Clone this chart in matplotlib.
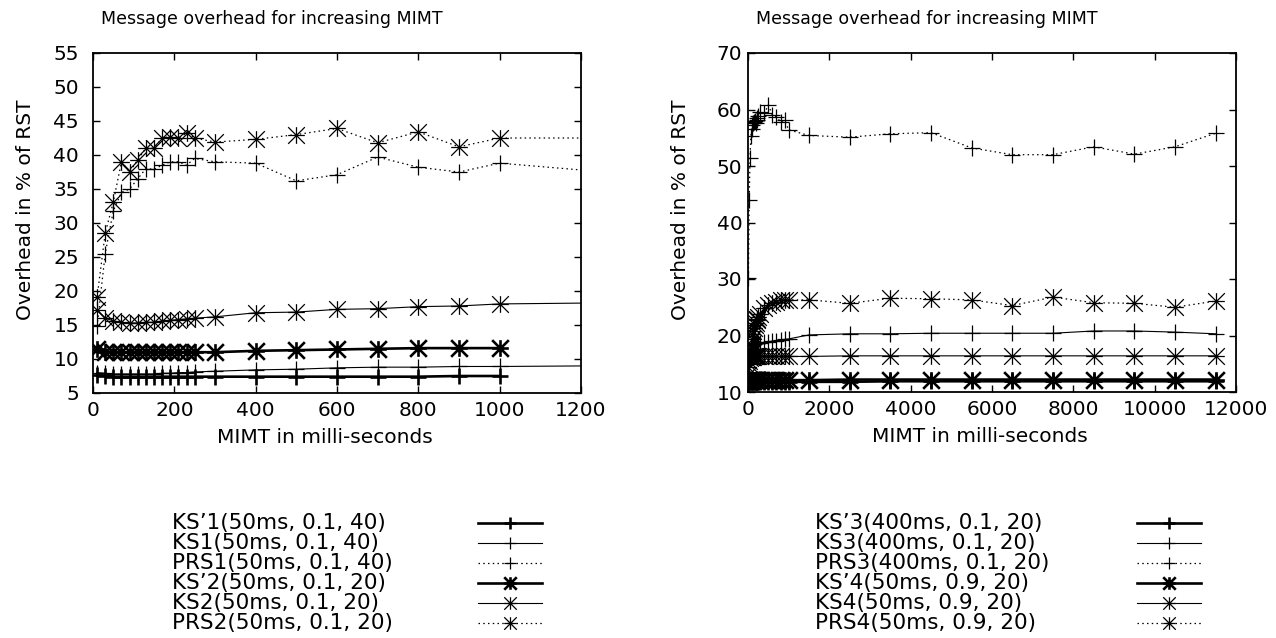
import numpy as np
import matplotlib
matplotlib.use("Agg")
import matplotlib.pyplot as plt
from matplotlib.path import Path
from matplotlib.lines import Line2D

plt.rcParams['font.family'] = ['DejaVu Sans']
plt.rcParams['font.size'] = 14

# ---- data: left panel (MIMT 0..1200 ms) ----
x_left = [10, 30, 50, 70, 90, 110, 130, 150, 170, 190, 210, 230, 250,
          300, 400, 500, 600, 700, 800, 900, 1000, 1500]

ks1p = [7.6, 7.5, 7.4, 7.4, 7.4, 7.4, 7.4, 7.4, 7.4, 7.4, 7.4, 7.4, 7.4,
        7.4, 7.4, 7.4, 7.4, 7.4, 7.4, 7.5, 7.5]
ks1 = [8.0, 7.9, 7.8, 7.8, 7.8, 7.8, 7.8, 7.8, 7.9, 7.9, 8.0, 8.0, 8.1,
       8.2, 8.4, 8.5, 8.7, 8.8, 8.8, 8.9, 8.9, 9.1]
prs1 = [14.8, 25.5, 31.8, 34.5, 35.0, 36.5, 38.0, 37.9, 38.5, 39.0, 39.0, 38.5, 39.5,
        39.0, 38.8, 36.2, 37.1, 39.7, 38.2, 37.5, 38.8, 36.3]
ks2p = [11.4, 11.1, 11.0, 11.0, 11.0, 11.0, 11.0, 11.0, 11.0, 11.0, 11.0, 11.0, 11.0,
        11.0, 11.2, 11.3, 11.4, 11.5, 11.6, 11.6, 11.6]
ks2 = [17.2, 16.0, 15.6, 15.4, 15.3, 15.3, 15.4, 15.4, 15.6, 15.7, 15.8, 15.9, 16.0,
       16.2, 16.8, 16.9, 17.3, 17.4, 17.7, 17.8, 18.1, 18.4]
prs2 = [19.1, 28.5, 33.1, 39.0, 37.5, 39.3, 41.0, 41.0, 42.5, 42.7, 42.5, 43.2, 42.5,
        41.9, 42.3, 43.0, 43.9, 41.8, 43.4, 41.2, 42.5, 42.5]

labels_left = ["KS\u20191(50ms, 0.1, 40)", "KS1(50ms, 0.1, 40)", "PRS1(50ms, 0.1, 40)",
               "KS\u20192(50ms, 0.1, 20)", "KS2(50ms, 0.1, 20)", "PRS2(50ms, 0.1, 20)"]

# ---- data: right panel (MIMT 0..12000 ms) ----
x_right = [10, 30, 50, 70, 90, 110, 130, 150, 170, 190, 210, 230, 250,
           300, 400, 500, 600, 700, 800, 900, 1000,
           1500, 2500, 3500, 4500, 5500, 6500, 7500, 8500, 9500, 10500, 11500]

ks3p = [11.5, 11.7, 11.8, 11.8, 11.8, 11.8, 11.8, 11.8, 11.8, 11.8, 11.8, 11.8, 11.8,
        11.8, 11.8, 11.8, 11.8, 11.8, 11.8, 11.8, 11.8,
        11.8, 11.8, 11.9, 11.9, 11.9, 11.9, 11.9, 11.9, 11.9, 11.9, 11.9]
ks3 = [15.2, 16.5, 17.3, 17.8, 18.1, 18.3, 18.4, 18.5, 18.6, 18.6, 18.6, 18.6, 18.6,
       18.7, 18.8, 18.9, 19.0, 19.1, 19.2, 19.3, 19.4,
       20.1, 20.3, 20.3, 20.4, 20.4, 20.4, 20.4, 20.8, 20.8, 20.6, 20.3]
prs3 = [30.2, 44.0, 51.5, 55.3, 56.5, 57.2, 57.6, 57.8, 58.0, 57.6, 58.2, 58.5, 58.8,
        59.5, 59.3, 60.8, 59.0, 58.7, 57.8, 58.1, 56.4,
        55.4, 55.1, 55.7, 55.9, 53.2, 52.0, 52.0, 53.4, 52.1, 53.4, 55.8]
ks4p = [12.0, 12.1, 12.1, 12.1, 12.1, 12.1, 12.1, 12.1, 12.1, 12.1, 12.1, 12.1, 12.1,
        12.1, 12.1, 12.1, 12.1, 12.1, 12.1, 12.1, 12.1,
        12.1, 12.2, 12.2, 12.2, 12.2, 12.2, 12.2, 12.2, 12.2, 12.2, 12.2]
ks4 = [14.5, 15.5, 16.0, 16.2, 16.2, 16.2, 16.2, 16.3, 16.3, 16.3, 16.3, 16.3, 16.3,
       16.3, 16.3, 16.3, 16.3, 16.3, 16.3, 16.3, 16.3,
       16.3, 16.4, 16.4, 16.4, 16.4, 16.4, 16.4, 16.4, 16.4, 16.4, 16.4]
prs4 = [13.0, 15.0, 16.8, 18.2, 19.3, 20.2, 20.8, 21.4, 21.9, 22.3, 22.7, 23.0, 23.3,
        23.8, 24.8, 25.4, 25.8, 26.0, 26.2, 26.3, 26.3,
        26.3, 25.7, 26.6, 26.5, 26.3, 25.3, 26.8, 25.8, 25.7, 25.0, 26.1]

labels_right = ["KS\u20193(400ms, 0.1, 20)", "KS3(400ms, 0.1, 20)", "PRS3(400ms, 0.1, 20)",
                "KS\u20194(50ms, 0.9, 20)", "KS4(50ms, 0.9, 20)", "PRS4(50ms, 0.9, 20)"]

# gnuplot-like asterisk marker (+ overlaid with x)
star = Path([(-1, 0), (1, 0), (0, -1), (0, 1), (-1, -1), (1, 1), (-1, 1), (1, -1)],
            [Path.MOVETO, Path.LINETO] * 4)

dotted = (0, (1.2, 2.6))
# (marker, linestyle, linewidth, marker edge width)
styles = [
    ('+', '-', 1.9, 1.9),
    ('+', '-', 0.8, 0.9),
    ('+', dotted, 0.9, 0.9),
    (star, '-', 1.9, 1.9),
    (star, '-', 0.8, 0.9),
    (star, dotted, 0.9, 0.9),
]
MS = 12
TICK_FS = 14.5
LABEL_FS = 14.5
TITLE_FS = 12.5
KEY_FS = 15.5

fig = plt.figure(figsize=(12.76, 6.38), dpi=100)
W, H = 1276, 638


def make_axes(x0, x1, y0, y1):
    return fig.add_axes([x0 / W, 1 - y1 / H, (x1 - x0) / W, (y1 - y0) / H])


def draw_panel(ax, xs, series, xlim, ylim, xticks, yticks, ypad):
    for ys, (mk, ls, lw, mew) in zip(series, styles):
        ax.plot(xs[:len(ys)], ys, color='black', marker=mk, ms=MS, mew=mew,
                mfc='none', ls=ls, lw=lw, clip_on=True)
    ax.set_xlim(*xlim)
    ax.set_ylim(*ylim)
    ax.set_xticks(xticks)
    ax.set_yticks(yticks)
    ax.tick_params(direction='in', top=True, right=True, length=5, width=1,
                   labelsize=TICK_FS)
    ax.tick_params(axis='y', pad=ypad)
    ax.tick_params(axis='x', pad=6)
    for sp in ax.spines.values():
        sp.set_linewidth(1.3)
    ax.set_title("Message overhead for increasing MIMT", fontsize=TITLE_FS,
                 x=0.366, y=1.085, pad=0)
    ax.set_xlabel("MIMT in milli-seconds", fontsize=LABEL_FS, va='center')
    ax.xaxis.set_label_coords(0.475, -0.132)
    ax.set_ylabel("Overhead in % of RST", fontsize=LABEL_FS, va='center')
    ax.yaxis.set_label_coords(-0.139, 0.538)


ax1 = make_axes(93, 581, 53, 393)
draw_panel(ax1, x_left, [ks1p, ks1, prs1, ks2p, ks2, prs2], (0, 1200), (5, 55),
           range(0, 1201, 200), range(5, 56, 5), 10)

ax2 = make_axes(748, 1236, 53, 392)
draw_panel(ax2, x_right, [ks3p, ks3, prs3, ks4p, ks4, prs4], (0, 12000), (10, 70),
           range(0, 12001, 2000), range(10, 71, 10), 4)


# gnuplot-style key below each panel: text left, sample on the right
def draw_key(labels, tx, lx0, lx1, y_first, dy):
    for i, (lab, (mk, ls, lw, mew)) in enumerate(zip(labels, styles)):
        y = 1 - (y_first + i * dy) / H
        fig.text(tx / W, y, lab, fontsize=KEY_FS, va='center', ha='left')
        fig.add_artist(Line2D([lx0 / W, lx1 / W], [y, y], color='black', ls=ls, lw=lw,
                              transform=fig.transFigure))
        fig.add_artist(Line2D([(lx0 + lx1) / 2 / W], [y], color='black', marker=mk,
                              ms=MS * 0.75, mew=mew, mfc='none', ls='none',
                              transform=fig.transFigure))


draw_key(labels_left, 172, 478, 542, 523, 20)
draw_key(labels_right, 815, 1137, 1201, 523, 20)

fig.savefig("out.png", dpi=100)
